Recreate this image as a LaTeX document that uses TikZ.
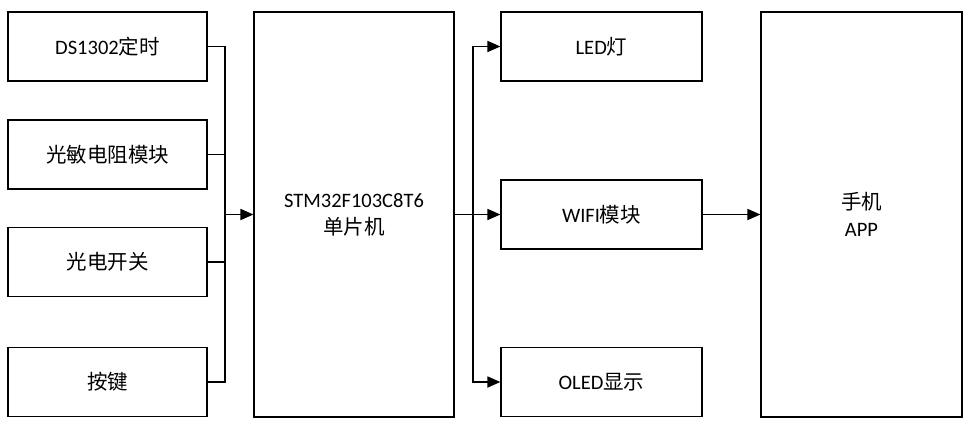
\documentclass[tikz,border=0pt]{standalone}
\usepackage{fontspec}
\setmainfont{Noto Sans CJK SC}
\newfontfamily\latfont{Carlito}
\newcommand{\lat}[1]{{\latfont #1}}
\usetikzlibrary{arrows.meta}

\tikzset{
  blockbox/.style={draw,line width=1.2pt,minimum width=199pt,minimum height=69pt,
    inner sep=0pt,align=center,font=\fontsize{20.5}{27}\selectfont},
  tallbox/.style={blockbox,minimum width=200pt,minimum height=405pt},
  wire/.style={line width=1.8pt},
  feed/.style={wire,-{Triangle[length=13pt,width=11pt]}}
}

\begin{document}
\begin{tikzpicture}[x=1pt,y=-1pt]
  \useasboundingbox (0,0) rectangle (972,437);

  % input blocks
  \node[blockbox] (rtc)    at (107.5,46.5) {\lat{DS1302}定时};
  \node[blockbox] (ldr)    at (107.5,154.5) {光敏电阻模块};
  \node[blockbox] (photo)  at (107.5,262) {光电开关};
  \node[blockbox] (keys)   at (107.5,382) {按键};

  % controller
  \node[tallbox] (mcu) at (354,214.5) {\lat{STM32F103C8T6}\\单片机};

  % output blocks
  \node[blockbox,minimum width=201pt] (led)  at (601.5,46.5) {\lat{LED}灯};
  \node[blockbox,minimum width=201pt] (wifi) at (601.5,214.5) {\lat{WIFI}模块};
  \node[blockbox,minimum width=201pt] (oled) at (601.5,382) {\lat{OLED}显示};

  % phone
  \node[tallbox,minimum width=201pt] (app) at (861.5,214.5) {手机\\\lat{APP}};

  % input bus
  \coordinate (lbus) at (225,214.5);
  \draw[wire] (rtc.east) -| (lbus);
  \draw[wire] (ldr.east) -| (lbus);
  \draw[wire] (photo.east) -| (lbus);
  \draw[wire] (keys.east) -| (lbus);
  \draw[feed] (lbus) -- (mcu.west);

  % output bus
  \coordinate (rbus) at (473,214.5);
  \draw[feed] (mcu.east) -- (wifi.west);
  \draw[feed] (rbus) |- (led.west);
  \draw[feed] (rbus) |- (oled.west);

  \draw[feed] (wifi.east) -- (app.west);
\end{tikzpicture}
\end{document}
